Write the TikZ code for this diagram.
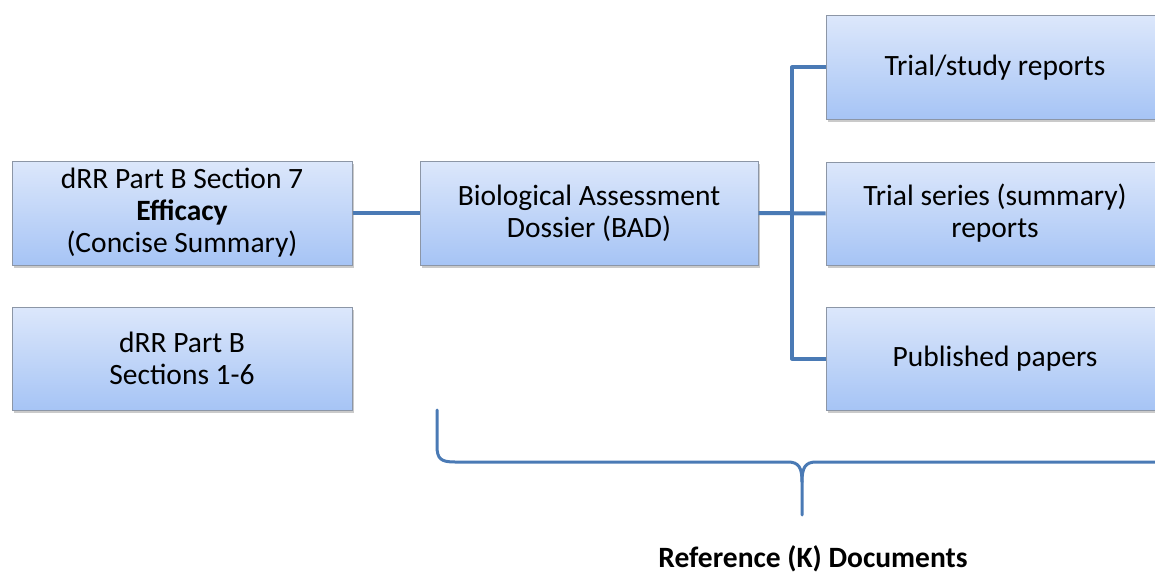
\documentclass[tikz,border=0pt]{standalone}
\usepackage{fontspec}
\setmainfont{Carlito}
\usetikzlibrary{shadows}
\definecolor{lineblue}{HTML}{4A7AB5}
\definecolor{boxtop}{HTML}{DCE7FB}
\definecolor{boxbot}{HTML}{A6C4F5}
\definecolor{boxedge}{HTML}{8C96A6}
\tikzset{
  box/.style={rectangle, draw=boxedge, line width=1pt, top color=boxtop, bottom color=boxbot,
    minimum width=340pt, minimum height=104pt, align=center, inner sep=0pt,
    font=\fontsize{29.5}{32}\selectfont,
    drop shadow={opacity=0.35, shadow xshift=2pt, shadow yshift=-2.5pt, fill=black!60}},
  conn/.style={draw=lineblue, line width=4pt},
  brace/.style={draw=lineblue, line width=3pt, line cap=round}
}
\begin{document}
\begin{tikzpicture}[x=1pt,y=-1pt]
\useasboundingbox (0,0) rectangle (1155,575);
\clip (0,0) rectangle (1155,575);
\node[box] (sec7) at (182,213) {dRR Part B Section 7\\\textbf{Efficacy}\\(Concise Summary)};
\node[box, minimum height=103pt] (sec16) at (182,358.5) {dRR Part B\\Sections 1-6};
\node[box, minimum width=338pt] (bad) at (589,213) {Biological Assessment\\Dossier (BAD)};
\node[box, minimum width=338pt, minimum height=103pt] (trial) at (995,67.5) {Trial/study reports};
\node[box, minimum width=338pt, minimum height=103pt] (series) at (995,213.5) {Trial series (summary)\\reports};
\node[box, minimum width=338pt, minimum height=103pt] (pub) at (995,358.5) {Published papers};
\coordinate (bus) at (792,0);
\draw[conn] (sec7.east) -- (bad.west);
\draw[conn] (bad.east) -- (series.west);
\draw[conn, line join=round] (trial.west) -- (trial.west -| bus) -- (pub.west -| bus) -- (pub.west);
\coordinate (bl) at (437,410);
\coordinate (tip) at (802,515);
\coordinate (br) at (1160,462);
\draw[brace] (bl) -- (437,446) .. controls (437,459) and (441,462) .. (455,462)
  -- (788,462) .. controls (799,462) and (802,468) .. (802,482) -- (tip);
\draw[brace] (br) -- (816,462) .. controls (805,462) and (802,468) .. (802,482);
\node[font=\fontsize{29.5}{32}\selectfont\bfseries] (ref) at (813,559) {Reference (K) Documents};
\end{tikzpicture}
\end{document}
